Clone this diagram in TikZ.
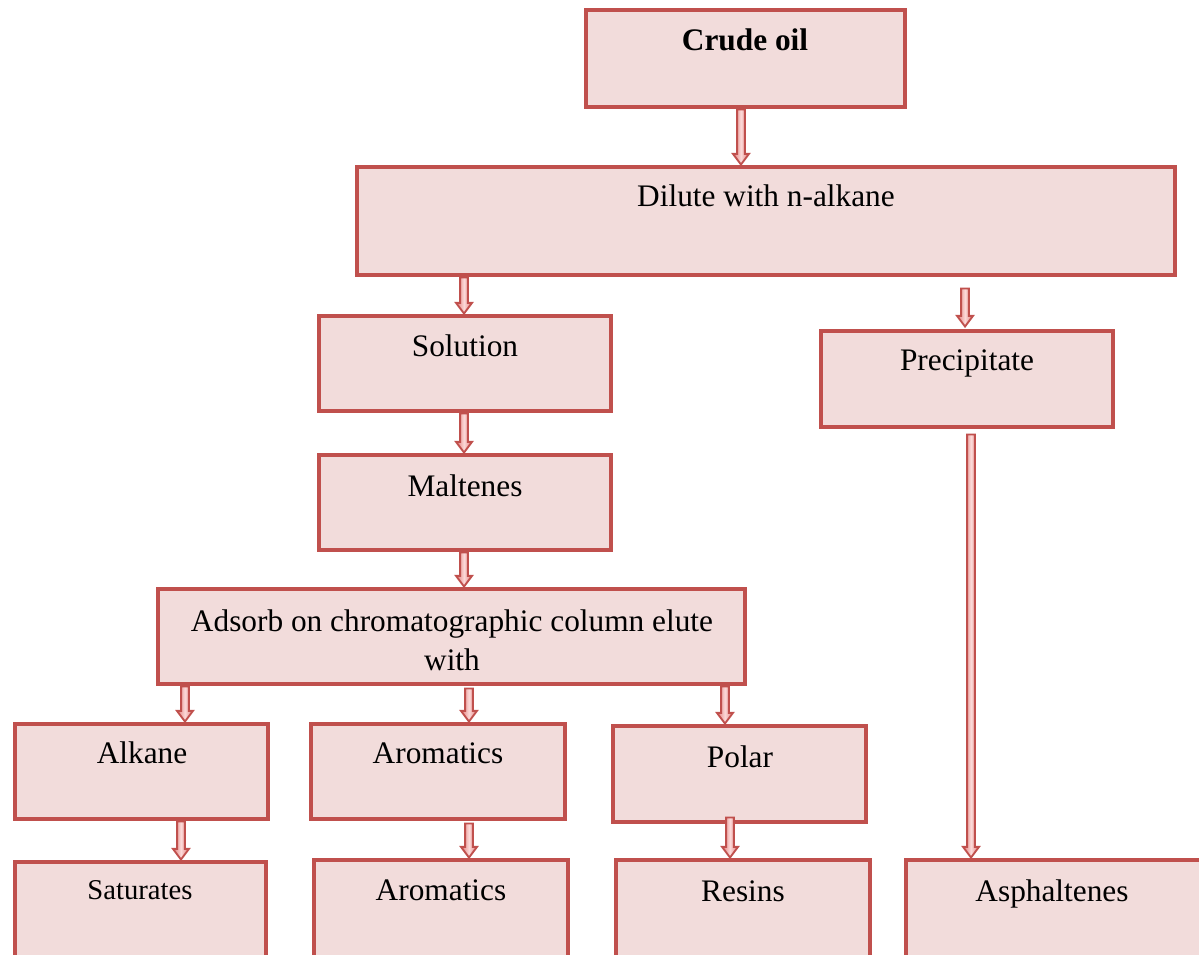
\documentclass[tikz,border=0pt]{standalone}
\usepackage{fontspec}
\setmainfont{Liberation Serif}
\usetikzlibrary{calc,fit}
\definecolor{boxline}{HTML}{C0504D}
\definecolor{boxfill}{HTML}{F2DCDB}
\definecolor{arrowedge}{HTML}{C0504D}
\definecolor{arrowside}{HTML}{E47C7A}
\definecolor{arrowmid}{HTML}{FBD9D8}
\tikzset{
  box/.style={draw=boxline, fill=boxfill, line width=3.7pt, inner sep=0pt, rectangle},
  lbl/.style={anchor=base, inner sep=0pt, font=\fontsize{23.5}{29}\selectfont},
  smalllbl/.style={anchor=base, inner sep=0pt, font=\fontsize{21.5}{26}\selectfont},
  blockarrow/.style={draw=arrowedge, line width=1.4pt, line join=miter,
    left color=arrowside, right color=arrowside, middle color=arrowmid,
    to path={let \p1=(\tikztostart), \p2=(\tikztotarget) in
      (\x1-2.9pt,\y1) -- (\x1+2.9pt,\y1) -- (\x1+2.9pt,\y2+8pt) -- (\x1+6pt,\y2+8pt)
      -- (\x1,\y2) -- (\x1-6pt,\y2+8pt) -- (\x1-2.9pt,\y2+8pt) -- cycle}}
}
\begin{document}
\begin{tikzpicture}[x=0.75pt,y=-0.75pt]
\useasboundingbox (0,0) rectangle (1199,955);
\clip (0,0) rectangle (1199,955);

% process boxes
\node[box, fit={(586,10) (905,107)}] (crude) {};
\node[box, fit={(357,167) (1175,275)}] (dilute) {};
\node[box, fit={(319,316) (611,411)}] (solution) {};
\node[box, fit={(821,331) (1113,427)}] (precip) {};
\node[box, fit={(319,455) (611,550)}] (maltenes) {};
\node[box, fit={(158,589) (745,684)}] (adsorb) {};
\node[box, fit={(15,724) (268,819)}] (alkane) {};
\node[box, fit={(311,724) (565,819)}] (aromA) {};
\node[box, fit={(613,726) (866,822)}] (polar) {};
\node[box, fit={(15,862) (266,975)}] (saturates) {};
\node[box, fit={(314,860) (568,975)}] (aromB) {};
\node[box, fit={(616,860) (870,975)}] (resins) {};
\node[box, fit={(906,860) (1210,975)}] (asph) {};

% box texts
\node[lbl, font=\fontsize{23.5}{29}\selectfont\bfseries] (tcrude) at (745,51) {Crude oil};
\node[lbl] (tdilute) at (766,207) {Dilute with n-alkane};
\node[lbl] (tsolution) at (465,357) {Solution};
\node[lbl] (tprecip) at (967,371) {Precipitate};
\node[lbl] (tmaltenes) at (465,496) {Maltenes};
\node[lbl, anchor=center, align=center] (tadsorb) at (452,640)
  {Adsorb on chromatographic column elute\\with};
\node[lbl] (talkane) at (142,763) {Alkane};
\node[lbl] (taromA) at (438,763) {Aromatics};
\node[lbl] (tpolar) at (740,767) {Polar};
\node[smalllbl] (tsaturates) at (140,899) {Saturates};
\node[lbl] (taromB) at (441,900) {Aromatics};
\node[lbl] (tresins) at (743,901) {Resins};
\node[lbl] (tasph) at (1052,901) {Asphaltenes};

% block arrows between the steps
\path[blockarrow] ([xshift=-3.4pt]crude.south) to (dilute.north);
\path[blockarrow] ([xshift=-226.5pt]dilute.south) to (solution.north);
\path[blockarrow] ([xshift=149.25pt, yshift=-8.25pt]dilute.south) to ([yshift=1.5pt]precip.north);
\path[blockarrow] ([xshift=-0.75pt]solution.south) to (maltenes.north);
\path[blockarrow] ([xshift=-0.75pt]maltenes.south) to (adsorb.north);
\path[blockarrow] ([xshift=-199.9pt]adsorb.south) to (alkane.north);
\path[blockarrow] ([xshift=13.1pt, yshift=-1.5pt]adsorb.south) to (aromA.north);
\path[blockarrow] ([xshift=205.1pt]adsorb.south) to (polar.north);
\path[blockarrow] ([xshift=29.6pt]alkane.south) to (saturates.north);
\path[blockarrow] ([xshift=23.25pt, yshift=-1.5pt]aromA.south) to (aromB.north);
\path[blockarrow] ([xshift=-7.1pt, yshift=5.25pt]polar.south) to (resins.north);
\path[blockarrow] ([xshift=3pt, yshift=-3.75pt]precip.south) to (asph.north);
\end{tikzpicture}
\end{document}
